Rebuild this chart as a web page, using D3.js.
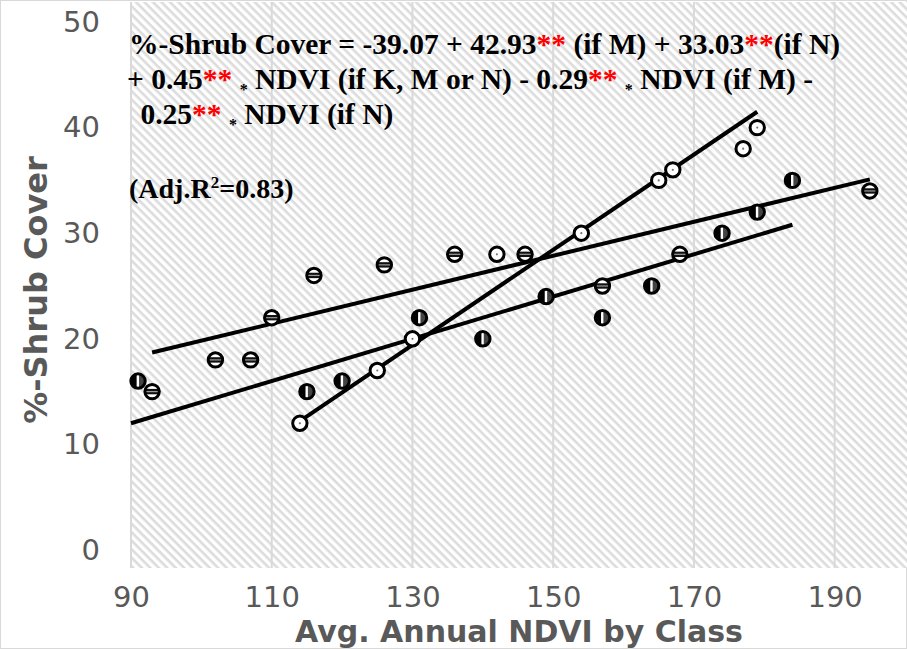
<!DOCTYPE html>
<html>
<head>
<meta charset="utf-8">
<script src="https://cdn.jsdelivr.net/npm/d3@7/dist/d3.min.js"></script>
<style>
  html, body { margin: 0; padding: 0; background: #fff; }
  svg { display: block; }
</style>
</head>
<body>
<svg id="chart" width="907" height="649"></svg>
<script>
// ---- Data ----
const xTicks = [90, 110, 130, 150, 170, 190];
const yTicks = [0, 10, 20, 30, 40, 50];

// Class K (open circles)
const classK_ndvi  = [114, 125, 130, 142, 154, 165, 167, 177, 179];
const classK_cover = [12, 17, 20, 28, 30, 35, 36, 38, 40];
// Class M (horizontal-striped markers)
const classM_ndvi  = [93, 102, 107, 110, 116, 126, 136, 146, 157, 168, 195];
const classM_cover = [15, 18, 18, 22, 26, 27, 28, 28, 25, 28, 34];
// Class N (vertical-striped markers)
const classN_ndvi  = [91, 115, 120, 131, 140, 149, 157, 164, 174, 179, 184];
const classN_cover = [16, 15, 16, 22, 20, 24, 22, 25, 30, 32, 35];

// Fitted lines (end points)
const trendK_ndvi = [114, 179];  const trendK_cover = [12.2, 41.5];
const trendM_ndvi = [93, 195];   const trendM_cover = [18.7, 35.1];
const trendN_ndvi = [90, 184];   const trendN_cover = [12.0, 30.8];

const eqLines = [
  [["%-Shrub Cover = -39.07 + 42.93","t"],["**","r"],[" (if M) + 33.03","t"],["**","r"],["(if N)","t"]],
  [["+ 0.45","t"],["**","r"],[" ","t"],["*","s"],[" NDVI (if K, M or N) - 0.29","t"],["**","r"],[" ","t"],["*","s"],[" NDVI (if M) -","t"]],
  [[" 0.25","t"],["**","r"],[" ","t"],["*","s"],[" NDVI (if N)","t"]]
];
const r2Label = ["(Adj.R", "2", "=0.83)"];
const xTitle = "Avg. Annual NDVI by Class";
const yTitle = "%-Shrub Cover";

// ---- Drawing ----
const svg = d3.select("#chart");
const W = 907, H = 649;

const x = d3.scaleLinear().domain([90, 200]).range([131, 905]);
const y = d3.scaleLinear().domain([0, 50]).range([550, 22]);

const defs = svg.append("defs");
const pat = defs.append("pattern")
  .attr("id", "hatch").attr("patternUnits", "userSpaceOnUse")
  .attr("width", 6).attr("height", 6)
  .attr("patternTransform", "rotate(45)");
pat.append("rect").attr("width", 6).attr("height", 6).attr("fill", "#fff");
pat.append("rect").attr("x", 0).attr("y", 0).attr("width", 6).attr("height", 2.6).attr("fill", "#dcdcdc");

// chart border
svg.append("rect").attr("x", 0.5).attr("y", 0.5).attr("width", W - 1).attr("height", H - 1)
  .attr("fill", "#fff").attr("stroke", "#d9d9d9");

// hatched plot area
const plotTop = 2, plotBottom = 568;
svg.append("rect").attr("x", x(90)).attr("y", plotTop)
  .attr("width", W - x(90)).attr("height", plotBottom - plotTop)
  .attr("fill", "url(#hatch)");

// vertical gridlines
svg.append("g").selectAll("line").data(xTicks).join("line")
  .attr("x1", d => x(d)).attr("x2", d => x(d))
  .attr("y1", plotTop).attr("y2", plotBottom)
  .attr("stroke", "#d9d9d9").attr("stroke-width", 2);

// axes (labels only) via d3 axes
const xAxis = svg.append("g").attr("transform", `translate(0,${y(0) + 36})`)
  .call(d3.axisBottom(x).tickValues(xTicks).tickSize(0).tickPadding(0));
xAxis.select(".domain").remove();
xAxis.selectAll("text").attr("font-family", "DejaVu Sans, Verdana, sans-serif")
  .attr("font-size", 29).attr("fill", "#595959").attr("dy", "0.71em");

const yAxis = svg.append("g").attr("transform", `translate(100,0)`)
  .call(d3.axisLeft(y).tickValues(yTicks).tickSize(0).tickPadding(0));
yAxis.select(".domain").remove();
yAxis.selectAll("text").attr("font-family", "DejaVu Sans, Verdana, sans-serif")
  .attr("font-size", 29).attr("fill", "#595959");

// axis titles
svg.append("text").attr("x", 519).attr("y", 642).attr("text-anchor", "middle")
  .attr("font-family", "DejaVu Sans, Verdana, sans-serif").attr("font-weight", "bold")
  .attr("font-size", 30).attr("fill", "#595959").text(xTitle);
svg.append("text").attr("transform", "translate(47,290) rotate(-90)").attr("text-anchor", "middle")
  .attr("font-family", "DejaVu Sans, Verdana, sans-serif").attr("font-weight", "bold")
  .attr("font-size", 32).attr("fill", "#595959").text(yTitle);

// trend lines
const trends = [
  [trendK_ndvi, trendK_cover],
  [trendM_ndvi, trendM_cover],
  [trendN_ndvi, trendN_cover]
];
const lineGen = d3.line().x(d => x(d[0])).y(d => y(d[1]));
svg.append("g").selectAll("path").data(trends).join("path")
  .attr("d", t => lineGen(t[0].map((v, i) => [v, t[1][i]])))
  .attr("fill", "none").attr("stroke", "#000").attr("stroke-width", 4).attr("stroke-linecap", "butt");

// markers
const R = 7.2;
defs.append("clipPath").attr("id", "mclip").append("circle").attr("r", R);

const zip = (a, b) => a.map((v, i) => [v, b[i]]);

// K: open circles with small grey dot
const gK = svg.append("g").selectAll("g").data(zip(classK_ndvi, classK_cover)).join("g")
  .attr("transform", d => `translate(${x(d[0])},${y(d[1])})`);
gK.append("circle").attr("r", R).attr("fill", "#fff").attr("stroke", "#000").attr("stroke-width", 3);
gK.append("circle").attr("r", 1.1).attr("fill", "#777");

// M: horizontal band
const gM = svg.append("g").selectAll("g").data(zip(classM_ndvi, classM_cover)).join("g")
  .attr("transform", d => `translate(${x(d[0])},${y(d[1])})`);
gM.append("circle").attr("r", R).attr("fill", "#fff");
gM.append("g").attr("clip-path", "url(#mclip)").call(g => {
  g.append("rect").attr("x", -R).attr("y", -2.7).attr("width", 2 * R).attr("height", 5.4).attr("fill", "#111");
  g.append("rect").attr("x", -R).attr("y", -0.6).attr("width", 2 * R).attr("height", 1.2).attr("fill", "#999");
});
gM.append("circle").attr("r", R).attr("fill", "none").attr("stroke", "#000").attr("stroke-width", 3);

// N: vertical stripes
const gN = svg.append("g").selectAll("g").data(zip(classN_ndvi, classN_cover)).join("g")
  .attr("transform", d => `translate(${x(d[0])},${y(d[1])})`);
gN.append("circle").attr("r", R).attr("fill", "#000");
gN.append("g").attr("clip-path", "url(#mclip)").call(g => {
  g.append("rect").attr("x", 0.8).attr("y", -R).attr("width", R).attr("height", 2 * R).attr("fill", "#444");
  g.append("rect").attr("x", -1.4).attr("y", -R).attr("width", 2.4).attr("height", 2 * R).attr("fill", "#fff");
});
gN.append("circle").attr("r", R).attr("fill", "none").attr("stroke", "#000").attr("stroke-width", 3);

// equation text
const eqFont = "Liberation Serif, Times New Roman, serif";
const eqSize = 29.5;
const eqX = [129, 127, 133];
const eqY = [54, 89, 124];
eqLines.forEach((segs, li) => {
  const t = svg.append("text").attr("x", eqX[li]).attr("y", eqY[li])
    .attr("font-family", eqFont).attr("font-weight", "bold").attr("font-size", eqSize)
    .attr("fill", "#000").attr("xml:space", "preserve").style("white-space", "pre");
  let prevSub = false;
  segs.forEach(([s, kind]) => {
    const ts = t.append("tspan").text(s);
    if (kind === "r") ts.attr("fill", "#ff0000");
    if (kind === "s") { ts.attr("font-size", 16).attr("dy", 6); }
    else if (prevSub) ts.attr("dy", -6);
    prevSub = kind === "s";
  });
});
const r2 = svg.append("text").attr("x", 129).attr("y", 198)
  .attr("font-family", eqFont).attr("font-weight", "bold").attr("font-size", 28).attr("fill", "#000");
r2.append("tspan").text(r2Label[0]);
r2.append("tspan").text(r2Label[1]).attr("font-size", 17).attr("dy", -10);
r2.append("tspan").text(r2Label[2]).attr("dy", 10);
</script>
</body>
</html>
